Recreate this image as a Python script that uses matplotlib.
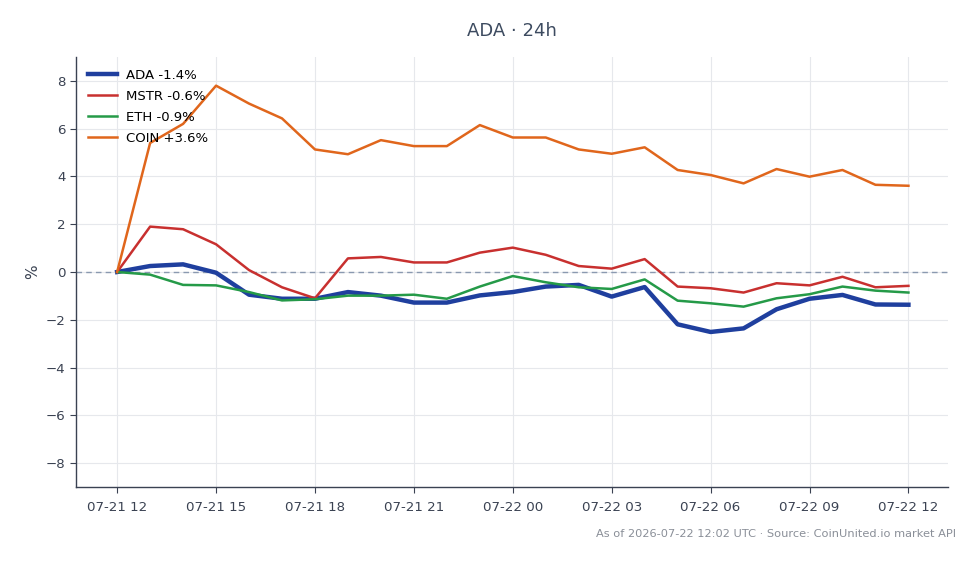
import matplotlib
matplotlib.use("Agg")
import matplotlib.pyplot as plt
import matplotlib.dates as mdates
import numpy as np
import pandas as pd

times = pd.date_range("2026-07-21 12:00", "2026-07-22 12:00", freq="h")

ada = [0.0, 0.25, 0.32, -0.03, -0.95, -1.12, -1.12, -0.84, -0.99, -1.28, -1.28, -0.98, -0.84,
       -0.61, -0.54, -1.03, -0.63, -2.19, -2.51, -2.36, -1.56, -1.12, -0.96, -1.36, -1.37]
mstr = [0.0, 1.90, 1.79, 1.16, 0.08, -0.64, -1.10, 0.57, 0.63, 0.40, 0.40, 0.81, 1.02,
        0.72, 0.25, 0.14, 0.54, -0.61, -0.68, -0.86, -0.47, -0.56, -0.20, -0.64, -0.58]
eth = [0.0, -0.11, -0.54, -0.56, -0.84, -1.19, -1.14, -0.99, -0.99, -0.95, -1.12, -0.61, -0.17,
       -0.43, -0.64, -0.71, -0.31, -1.20, -1.31, -1.45, -1.10, -0.93, -0.61, -0.78, -0.86]
coin = [0.0, 5.40, 6.20, 7.80, 7.05, 6.43, 5.13, 4.93, 5.52, 5.27, 5.27, 6.15, 5.63,
        5.63, 5.13, 4.95, 5.22, 4.27, 4.06, 3.71, 4.31, 3.99, 4.27, 3.65, 3.61]

labels = ["ADA -1.4%", "MSTR -0.6%", "ETH -0.9%", "COIN +3.6%"]
colors = ["#1f3f9e", "#c8302f", "#259a48", "#e0661c"]
widths = [3.2, 1.8, 1.8, 1.8]

fig = plt.figure(figsize=(9.8, 5.64), dpi=100)
ax = fig.add_axes([76/980, 1-487/564, (948-76)/980, (487-57)/564])

for s, lab, c, w in zip([ada, mstr, eth, coin], labels, colors, widths):
    ax.plot(times, s, color=c, lw=w, label=lab, zorder=3)

ax.axhline(0, color="#8a99b0", lw=1, ls=(0, (4, 3)), zorder=2)

ax.set_ylim(-9, 9)
ax.set_yticks([-8, -6, -4, -2, 0, 2, 4, 6, 8])
ax.set_yticklabels([f"{v}" if v >= 0 else f"\u2212{-v}" for v in [-8, -6, -4, -2, 0, 2, 4, 6, 8]])
span = times[-1] - times[0]
ax.set_xlim(times[0] - span * 0.052, times[-1] + span * 0.05)
ax.xaxis.set_major_locator(mdates.HourLocator(byhour=range(0, 24, 3)))
ax.xaxis.set_major_formatter(mdates.DateFormatter("%m-%d %H"))

ax.grid(True, color="#e6e8ec", lw=0.8, zorder=0)
for sp in ["top", "right"]:
    ax.spines[sp].set_visible(False)
for sp in ["left", "bottom"]:
    ax.spines[sp].set_color("#3a4252")
    ax.spines[sp].set_linewidth(1.0)
ax.tick_params(colors="#3a4252", labelsize=9.6, length=4)
ax.tick_params(axis="x", pad=6)

ax.set_ylabel("%", color="#3a4252", fontsize=11)
fig.text(512/980, 1-31/564, "ADA \u00b7 24h", ha="center", va="center", fontsize=13, color="#3d4b60")
fig.text(956/980, 1-534/564, "As of 2026-07-22 12:02 UTC \u00b7 Source: CoinUnited.io market API",
         ha="right", va="center", fontsize=8.2, color="#8a8f98")

leg = ax.legend(loc="upper left", frameon=False, fontsize=9.5, handlelength=2.2,
                bbox_to_anchor=(0.0, 1.0), borderaxespad=0.5, labelspacing=0.6,
                handletextpad=0.7)

fig.savefig("out.png", dpi=100)
